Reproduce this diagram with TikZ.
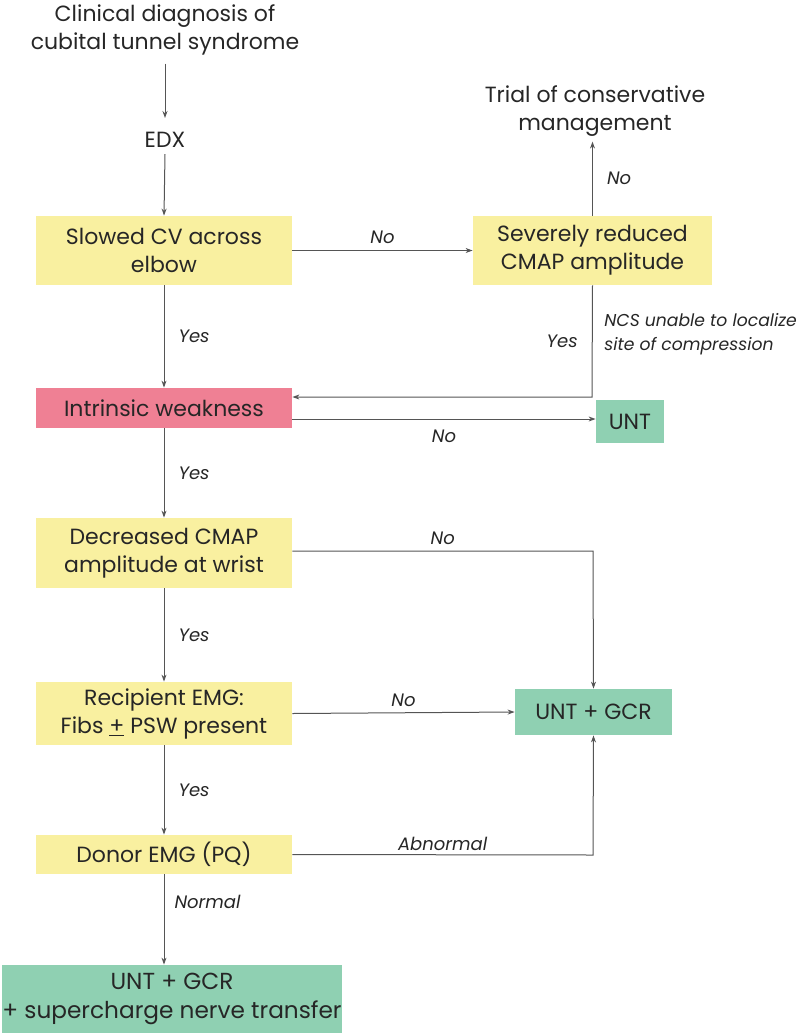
\documentclass[tikz,border=0pt]{standalone}
\usepackage{fontspec}
\setmainfont{Poppins}
\usetikzlibrary{arrows.meta}
\definecolor{boxyellow}{HTML}{F9F0A0}
\definecolor{boxpink}{HTML}{EF8094}
\definecolor{boxgreen}{HTML}{8FD0B2}
\definecolor{linegray}{HTML}{555555}
\tikzset{
  box/.style={inner sep=0pt, align=center, font=\fontsize{11}{14}\selectfont, text=black!85},
  ybox/.style={box, fill=boxyellow},
  pbox/.style={box, fill=boxpink},
  gbox/.style={box, fill=boxgreen},
  plain/.style={box},
  lab/.style={font=\fontsize{9}{11}\selectfont\itshape, text=black!85, inner sep=1pt},
  note/.style={font=\fontsize{8.6}{12}\selectfont\itshape, text=black!85, inner sep=0pt, align=left},
  arr/.style={draw=linegray, line width=0.5pt, -{Stealth[length=3.5pt,width=2.5pt]}},
}
\begin{document}
\begin{tikzpicture}[x=0.5pt,y=-0.5pt]
  \useasboundingbox (0,0) rectangle (800,1035);
  % start
  \node[plain] (clin) at (165,30) {Clinical diagnosis of\\cubital tunnel syndrome};
  \node[plain] (edx) at (165,140) {EDX};
  \node[plain] (trial) at (595,111) {Trial of conservative\\management};
  % boxes
  \node[ybox, minimum width=128pt, minimum height=34.5pt] (cv) at (164,250.5) {Slowed CV across\\elbow};
  \node[ybox, minimum width=119.5pt, minimum height=34.5pt] (cmap) at (592.5,250.5) {Severely reduced\\CMAP amplitude};
  \node[pbox, minimum width=128pt, minimum height=20pt] (weak) at (164,408) {Intrinsic weakness};
  \node[gbox, minimum width=34pt, minimum height=21.5pt] (unt) at (630,421.5) {UNT};
  \node[ybox, minimum width=128pt, minimum height=35pt] (dec) at (164,553) {Decreased CMAP\\amplitude at wrist};
  \node[ybox, minimum width=128pt, minimum height=31.5pt] (rec) at (164,713.5) {Recipient EMG:\\Fibs \underline{+} PSW present};
  \node[gbox, minimum width=170pt, minimum height=34pt, font=\fontsize{11.6}{14.5}\selectfont] (final) at (172,999) {UNT + GCR\\+ supercharge nerve transfer};
  \node[gbox, minimum width=78.5pt, minimum height=23pt] (gcr) at (593.5,712) {UNT + GCR};
  \node[ybox, minimum width=128pt, minimum height=19.5pt] (donor) at (164,854.5) {Donor EMG (PQ)};
  % connectors
  \draw[arr] (clin.south) ++(0,8) coordinate (c1) -- (165,118);
  \draw[arr] (edx.south) ++(0,6) -- (cv.north);
  \draw[arr] (cv.east) -- node[lab, above=2pt] {No} (cmap.west);
  \draw[arr] (cmap.north) -- node[lab, right=6pt] {No} ++(0,-74);
  \draw[arr] (cmap.south) -- node[lab, left=6pt] {Yes} (592,397) -- (weak.east |- 0,397);
  \node[note, anchor=north west] (ncs) at (604,313) {NCS unable to localize\\site of compression};
  \draw[arr] (weak.east |- 0,419) -- node[lab, below=4pt] {No} (unt.west |- 0,419);
  \draw[arr] (cv.south) -- node[lab, right=6pt] {Yes} (weak.north);
  \draw[arr] (weak.south) -- node[lab, right=6pt] {Yes} (dec.north);
  \draw[arr] (dec.east |- 0,551) -- node[lab, above=2pt] {No} (593,551) -- (gcr.north);
  \draw[arr] (dec.south) -- node[lab, right=6pt] {Yes} (rec.north);
  \draw[arr] (rec.east) -- node[lab, above=2pt] {No} (gcr.west);
  \draw[arr] (rec.south) -- node[lab, right=6pt] {Yes} (donor.north);
  \draw[arr] (donor.east) -- node[lab, above=1pt] {Abnormal} (593,855) -- (gcr.south);
  \draw[arr] (donor.south) -- node[lab, right=4pt, pos=0.3] {Normal} (final.north -| 164,0);
\end{tikzpicture}
\end{document}
